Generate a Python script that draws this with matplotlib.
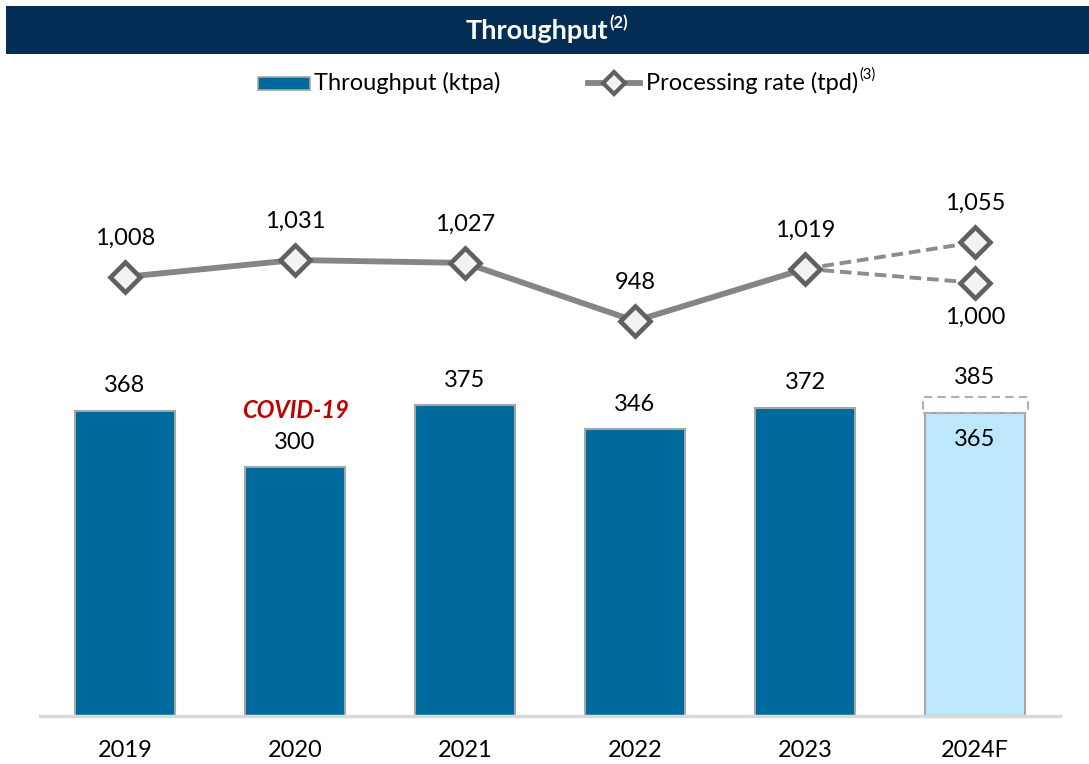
import matplotlib
matplotlib.use('Agg')
import matplotlib.pyplot as plt
from matplotlib.patches import Rectangle
from matplotlib.lines import Line2D

plt.rcParams['font.family'] = ['Lato', 'DejaVu Sans']

# data
years = ['2019', '2020', '2021', '2022', '2023', '2024F']
throughput = [368, 300, 375, 346, 372, 365]
throughput_high = 385          # 2024F upper forecast
rate = [1008, 1031, 1027, 948, 1019]
rate_forecast = [1055, 1000]   # 2024F high / low

BAR_BLUE = '#006A9C'
BAR_LIGHT = '#BDE7FB'
NAVY = '#032D52'
LINE_GRAY = '#858585'
MARK_EDGE = '#606060'

W, H = 1089, 764
fig = plt.figure(figsize=(W / 100, H / 100), dpi=100)

def fx(px):
    return px / W

def fy(py):
    return 1 - py / H

# header band
fig.patches.append(Rectangle((fx(6), fy(54)), fx(1083), 48 / H, transform=fig.transFigure,
                             facecolor=NAVY, edgecolor='none'))
fig.text(fx(608), fy(31), 'Throughput', color='white', fontsize=19.5, fontweight='bold',
         ha='right', va='center')
fig.text(fx(609), fy(23), '(2)', color='white', fontsize=12, fontweight='bold',
         ha='left', va='center')

# axes
ax = fig.add_axes([fx(40), fy(716), fx(1020), (716 - 110) / H])
x = list(range(len(years)))
bw = 100 / 170
colors = [BAR_BLUE] * 5 + [BAR_LIGHT]
ax.bar(x, throughput, width=bw, color=colors, edgecolor='#A6A6A6', linewidth=1.5, zorder=2)
ax.bar(x[-1], throughput_high - throughput[-1], bottom=throughput[-1], width=bw * 1.05,
       facecolor='none', edgecolor='#B0B0B0', linewidth=1.5, linestyle=(0, (4, 2.5)), zorder=2)
ax.set_xlim(-0.5, 5.5)
ax.set_ylim(0, 606 / 0.829)
ax.axis('off')
ax.plot([-0.5, 5.5], [0, 0], color='#D9D9D9', lw=2.5, zorder=3, clip_on=False)

lab = dict(fontsize=17, ha='center', va='center', textcoords='offset points', color='black')
for i, v in enumerate(throughput[:-1]):
    ax.annotate(f'{v}', (i, v), xytext=(0, 18), **lab)
ax.annotate('COVID-19', (1, throughput[1]), xytext=(0, 41), fontsize=17, fontweight='bold',
            fontstyle='italic', color='#C00000', ha='center', va='center',
            textcoords='offset points')
ax.annotate(f'{throughput_high}', (5, throughput_high), xytext=(0, 14), **lab)
ax.annotate(f'{throughput[-1]}', (5, throughput[-1]), xytext=(0, -19), **lab)

for i, y in enumerate(years):
    ax.annotate(y, (i, 0), xytext=(0, -25), **lab)

# processing rate line
ax2 = ax.twinx()
ax2.set_ylim(948 - 395 / 0.735, 948 - 395 / 0.735 + 606 / 0.735)
ax2.axis('off')
for v in rate_forecast:
    ax2.plot([4, 5], [rate[-1], v], color='#8C8C8C', lw=2.8, linestyle=(0, (3, 1.5)), zorder=3)
mk = dict(marker='D', markersize=15, markerfacecolor='#F2F2F2', markeredgecolor=MARK_EDGE,
          markeredgewidth=3.3)
ax2.plot(x[:5], rate, color=LINE_GRAY, lw=4.2, zorder=4, **mk)
ax2.plot([5, 5], rate_forecast, linestyle='none', zorder=4, **mk)
for i, v in enumerate(rate):
    ax2.annotate(f'{v:,}', (i, v), xytext=(0, 28), **lab)
ax2.annotate(f'{rate_forecast[0]:,}', (5, rate_forecast[0]), xytext=(0, 28), **lab)
ax2.annotate(f'{rate_forecast[1]:,}', (5, rate_forecast[1]), xytext=(0, -25), **lab)

# legend
fig.patches.append(Rectangle((fx(258), fy(90)), fx(52), 13 / H, transform=fig.transFigure,
                             facecolor=BAR_BLUE, edgecolor='#A6A6A6', linewidth=1.2))
fig.text(fx(314), fy(83), 'Throughput (ktpa)', fontsize=17, ha='left', va='center')
fig.lines.append(Line2D([fx(588), fx(640)], [fy(83), fy(83)], transform=fig.transFigure,
                        color=LINE_GRAY, lw=4.2))
fig.lines.append(Line2D([fx(614)], [fy(83)], transform=fig.transFigure, marker='D',
                        markersize=11, markerfacecolor='#F2F2F2', markeredgecolor=MARK_EDGE,
                        markeredgewidth=3))
t = fig.text(fx(646), fy(83), 'Processing rate (tpd)', fontsize=17, ha='left', va='center')
fig.canvas.draw()
bb = t.get_window_extent()
fig.text(bb.x1 / W + 0.001, fy(75), '(3)', fontsize=10.5, ha='left', va='center')

fig.savefig('out.png', dpi=100)
